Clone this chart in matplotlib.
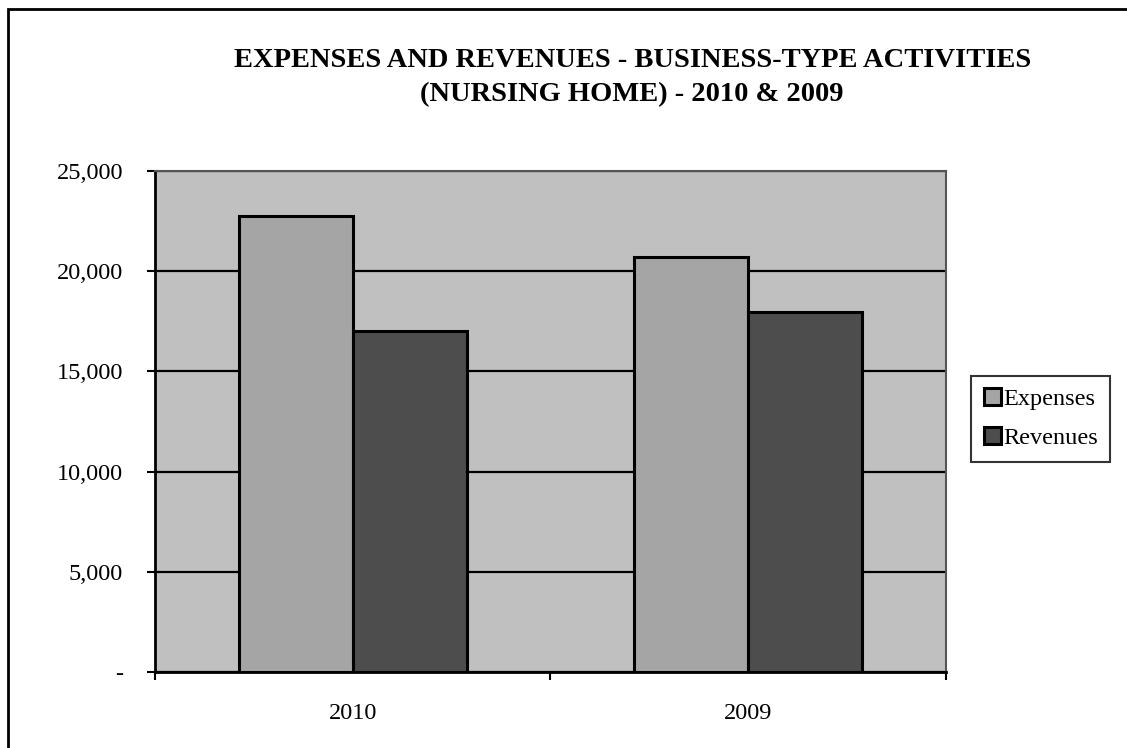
import matplotlib.pyplot as plt
from matplotlib.patches import Rectangle
import numpy as np

years = ['2010', '2009']
expenses = [22750, 20700]
revenues = [17000, 17950]

plt.rcParams['font.family'] = ['Liberation Serif', 'DejaVu Serif']

fig = plt.figure(figsize=(11.27, 7.48), dpi=100)
ax = fig.add_axes([0.1375, 0.1016, 0.7019, 0.6698])

ax.set_facecolor('#c0c0c0')
x = np.arange(len(years))
w = 0.288
ax.set_axisbelow(True)
ax.yaxis.grid(True, color='black', linewidth=1.6)
ax.bar(x - w / 2, expenses, w, color='#a5a5a5', edgecolor='black',
       linewidth=2.2, label='Expenses', zorder=3)
ax.bar(x + w / 2, revenues, w, color='#4d4d4d', edgecolor='black',
       linewidth=2.2, label='Revenues', zorder=3)

ax.set_xlim(-0.5, 1.5)
ax.set_ylim(0, 25000)
ax.set_yticks(range(0, 25001, 5000))
ax.set_yticklabels(['-'] + ['{:,}'.format(v) for v in range(5000, 25001, 5000)])
ax.set_xticks([-0.5, 0.5, 1.5])
ax.set_xticklabels([])
ax.set_xticks(x, minor=True)
ax.set_xticklabels(years, minor=True)
ax.tick_params(axis='x', which='minor', length=0, pad=22, labelsize=17.5)
ax.tick_params(axis='x', which='major', length=6, width=1.5, direction='out')
ax.tick_params(axis='y', length=6, width=1.5, direction='out', pad=17, labelsize=17.5)

for s in ['left', 'bottom']:
    ax.spines[s].set_linewidth(2)
    ax.spines[s].set_color('black')
for s in ['top', 'right']:
    ax.spines[s].set_linewidth(1.5)
    ax.spines[s].set_color('#555555')

fig.text(0.561, 0.896, 'EXPENSES AND REVENUES - BUSINESS-TYPE ACTIVITIES\n(NURSING HOME) - 2010 & 2009',
         ha='center', va='center', fontsize=20.5, fontweight='bold', linespacing=1.5)

lgd = fig.legend(loc='center left', bbox_to_anchor=(0.862, 0.44), fontsize=17.5,
                 frameon=True, fancybox=False, edgecolor='black', handlelength=0.7,
                 handleheight=0.7, handletextpad=0.1, borderpad=0.5,
                 labelspacing=0.7, borderaxespad=0)
lgd.get_frame().set_linewidth(1.5)

fig.patches.append(Rectangle((8 / 1127, -0.1), 1.2, 1 - 9 / 748 + 0.1,
                             transform=fig.transFigure, fill=False,
                             edgecolor='black', linewidth=2))

fig.savefig('out.png', dpi=100)
